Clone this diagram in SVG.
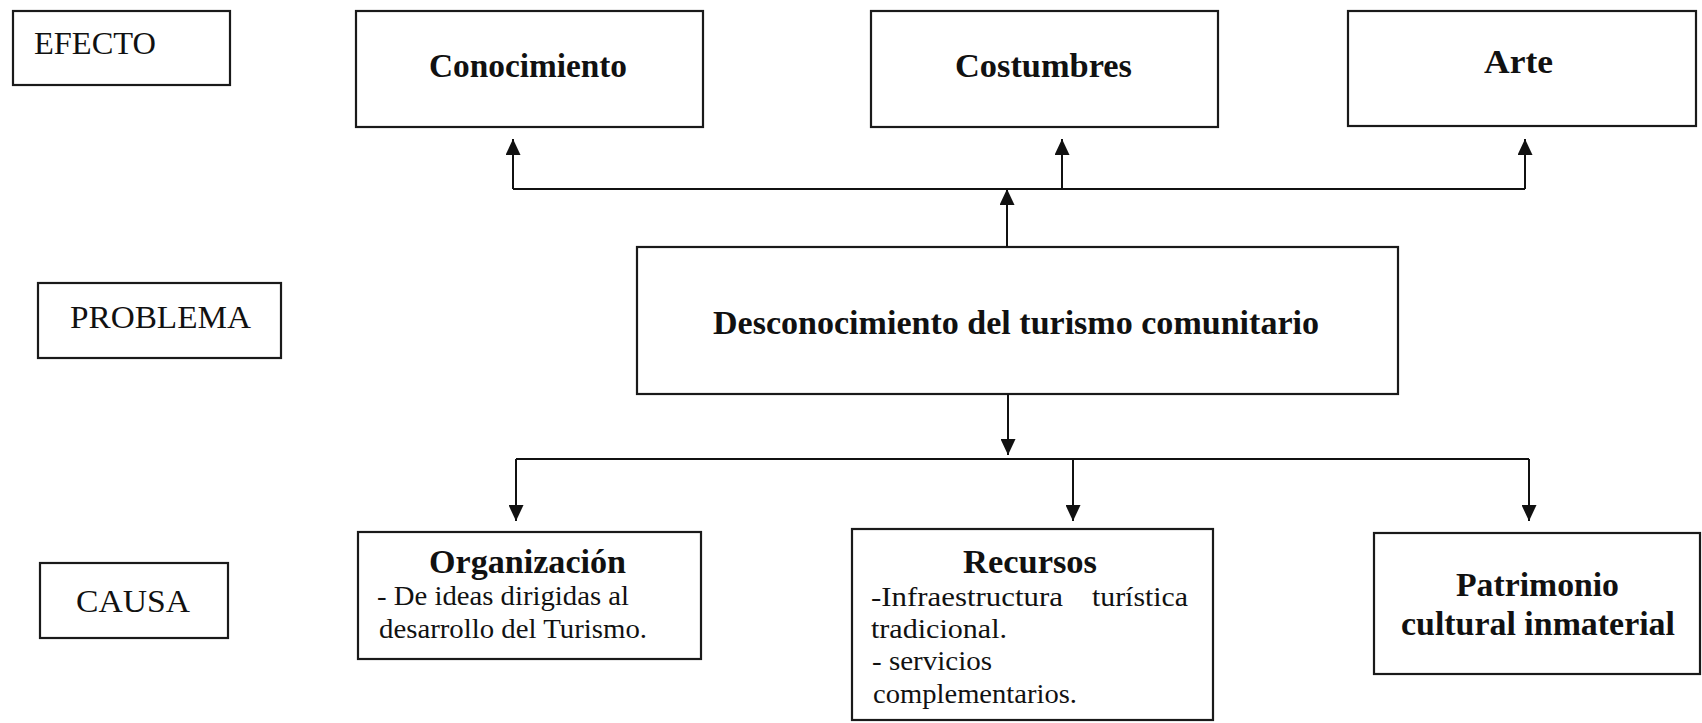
<svg xmlns="http://www.w3.org/2000/svg" width="1702" height="723" viewBox="0 0 1702 723">
<defs>
<marker id="arr" markerUnits="userSpaceOnUse" markerWidth="17" markerHeight="15" refX="16" refY="7.5" orient="auto">
<path d="M0,0 L16,7.5 L0,15 z" fill="#111"/>
</marker>
<style>
.box{fill:#fff;stroke:#1a1a1a;stroke-width:2.2}
.lbl{font-family:"Liberation Serif","Times New Roman",serif;font-size:32px;fill:#111}
.b{font-family:"Liberation Serif","Times New Roman",serif;font-size:33px;font-weight:bold;fill:#111}
.s{font-family:"Liberation Serif","Times New Roman",serif;font-size:28px;fill:#111}
.c{fill:none;stroke:#111;stroke-width:2}
</style>
</defs>
<rect width="1702" height="723" fill="#fff"/>
<g id="efecto">
<rect class="box" x="13" y="11" width="217" height="74"/>
<text class="lbl" x="34" y="54" textLength="122" lengthAdjust="spacingAndGlyphs">EFECTO</text>
</g>
<g id="problema">
<rect class="box" x="38" y="283" width="243" height="75"/>
<text class="lbl" x="70" y="328" textLength="181" lengthAdjust="spacingAndGlyphs">PROBLEMA</text>
</g>
<g id="causa">
<rect class="box" x="40" y="563" width="188" height="75"/>
<text class="lbl" x="76" y="612" textLength="114" lengthAdjust="spacingAndGlyphs">CAUSA</text>
</g>
<g id="conocimiento">
<rect class="box" x="356" y="11" width="347" height="116"/>
<text class="b" x="429" y="77" textLength="198" lengthAdjust="spacingAndGlyphs">Conocimiento</text>
</g>
<g id="costumbres">
<rect class="box" x="871" y="11" width="347" height="116"/>
<text class="b" x="955" y="77" textLength="177" lengthAdjust="spacingAndGlyphs">Costumbres</text>
</g>
<g id="arte">
<rect class="box" x="1348" y="11" width="348" height="115"/>
<text class="b" x="1484" y="73" textLength="69" lengthAdjust="spacingAndGlyphs">Arte</text>
</g>
<g id="desconocimiento">
<rect class="box" x="637" y="247" width="761" height="147"/>
<text class="b" x="713" y="334" textLength="606" lengthAdjust="spacingAndGlyphs">Desconocimiento del turismo comunitario</text>
</g>
<g id="organizacion">
<rect class="box" x="358" y="532" width="343" height="127"/>
<text class="b" x="429" y="573" font-size="31" textLength="197" lengthAdjust="spacingAndGlyphs">Organización</text>
<text class="s" x="377" y="605" textLength="252" lengthAdjust="spacingAndGlyphs">- De ideas dirigidas al</text>
<text class="s" x="379" y="638" textLength="268" lengthAdjust="spacingAndGlyphs">desarrollo del Turismo.</text>
</g>
<g id="recursos">
<rect class="box" x="852" y="529" width="361" height="191"/>
<text class="b" x="963" y="573" font-size="31" textLength="134" lengthAdjust="spacingAndGlyphs">Recursos</text>
<text class="s" y="606"><tspan x="871" textLength="192" lengthAdjust="spacingAndGlyphs">-Infraestructura</tspan><tspan x="1092" textLength="96" lengthAdjust="spacingAndGlyphs">turística</tspan></text>
<text class="s" x="871" y="638" textLength="136" lengthAdjust="spacingAndGlyphs">tradicional.</text>
<text class="s" x="872" y="670" textLength="120" lengthAdjust="spacingAndGlyphs">- servicios</text>
<text class="s" x="873" y="703" textLength="204" lengthAdjust="spacingAndGlyphs">complementarios.</text>
</g>
<g id="patrimonio">
<rect class="box" x="1374" y="533" width="326" height="141"/>
<text class="b" x="1456" y="596" textLength="163" lengthAdjust="spacingAndGlyphs">Patrimonio</text>
<text class="b" x="1401" y="635" textLength="274" lengthAdjust="spacingAndGlyphs">cultural inmaterial</text>
</g>
<g id="connectors">
<path class="c" d="M1007,247 V189" marker-end="url(#arr)"/>
<path class="c" d="M513,189 H1525"/>
<path class="c" d="M513,189 V139" marker-end="url(#arr)"/>
<path class="c" d="M1062,189 V139" marker-end="url(#arr)"/>
<path class="c" d="M1525,189 V139" marker-end="url(#arr)"/>
<path class="c" d="M1008,394 V455" marker-end="url(#arr)"/>
<path class="c" d="M516,459 H1529"/>
<path class="c" d="M516,459 V521" marker-end="url(#arr)"/>
<path class="c" d="M1073,459 V521" marker-end="url(#arr)"/>
<path class="c" d="M1529,459 V521" marker-end="url(#arr)"/>
</g>
</svg>
